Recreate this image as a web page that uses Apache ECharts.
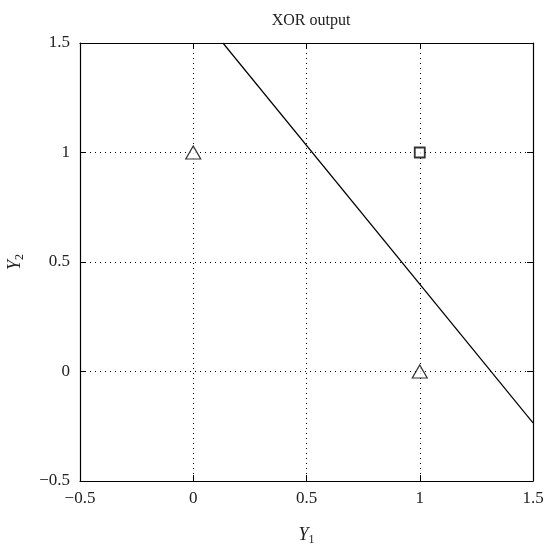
<!DOCTYPE html>
<html>
<head>
<meta charset="utf-8">
<script src="https://cdn.jsdelivr.net/npm/echarts@6/dist/echarts.min.js"></script>
<style>
  html, body { margin: 0; padding: 0; background: #fff; }
  #chart { width: 544px; height: 548px; }
</style>
</head>
<body>
<div id="chart"></div>
<script>
// decision boundary (two end points)
var boundary = [[0.131, 1.5], [1.5, -0.235]];
// class 0 points (triangles) and class 1 point (square)
var triPoints = [[0, 1], [1, 0]];
var sqPoints = [[1, 1]];
var axisMin = -0.5, axisMax = 1.5, axisStep = 0.5;

var serif = 'Liberation Serif';
function fmt(v) {
    return v < 0 ? '\u2212' + Math.abs(v) : String(v);
}

var myChart = echarts.init(document.getElementById('chart'));

function axis(extra) {
    var a = {
        type: 'value',
        min: axisMin,
        max: axisMax,
        interval: axisStep,
        axisLine: { show: true, onZero: false, lineStyle: { color: '#000', width: 1.2 } },
        axisTick: { inside: true, length: 6, lineStyle: { color: '#000' } },
        axisLabel: { color: '#222', fontFamily: serif, fontSize: 17, formatter: fmt },
        splitLine: { show: false }
    };
    return echarts.util.merge(a, extra, true);
}

var nameRich = {
    i: { fontFamily: serif, fontStyle: 'italic', fontSize: 18, color: '#222' },
    s: { fontFamily: serif, fontSize: 12, color: '#222', padding: [10, 0, 0, 0] }
};
var dotted = { show: true, lineStyle: { color: '#000', type: [1, 4], width: 1 } };

option = {
    backgroundColor: '#fff',
    animation: false,
    title: {
        text: 'XOR output',
        left: 306,
        top: 8,
        textAlign: 'center',
        textStyle: { fontFamily: serif, fontSize: 16, fontWeight: 'normal', color: '#222' }
    },
    grid: { left: 80, right: 11, top: 43, bottom: 67, show: false, containLabel: false, outerBoundsMode: 'none' },
    xAxis: [
        axis({
            position: 'bottom',
            name: '{i|Y}{s|1}',
            nameLocation: 'middle',
            nameGap: 43,
            nameTextStyle: { rich: nameRich },
            axisLabel: { margin: 9 },
            splitLine: dotted
        }),
        axis({ position: 'top', axisLabel: { show: false } })
    ],
    yAxis: [
        axis({
            position: 'left',
            name: '{i|Y}{s|2}',
            nameLocation: 'middle',
            nameGap: 54,
            nameTextStyle: { rich: nameRich },
            axisLabel: { margin: 10 },
            splitLine: dotted
        }),
        axis({ position: 'right', axisLabel: { show: false } })
    ],
    series: [
        {
            type: 'line',
            data: boundary,
            showSymbol: false,
            symbol: 'none',
            lineStyle: { color: '#000', width: 1.2 },
            silent: true
        },
        {
            type: 'scatter',
            data: triPoints,
            symbol: 'triangle',
            symbolSize: [15, 13],
            itemStyle: { color: '#fff', borderColor: '#000', borderWidth: 1.2 }
        },
        {
            type: 'scatter',
            data: sqPoints,
            symbol: 'rect',
            symbolSize: 10,
            itemStyle: { color: '#fff', borderColor: '#000', borderWidth: 1.8 }
        }
    ]
};
myChart.setOption(option);
</script>
</body>
</html>
